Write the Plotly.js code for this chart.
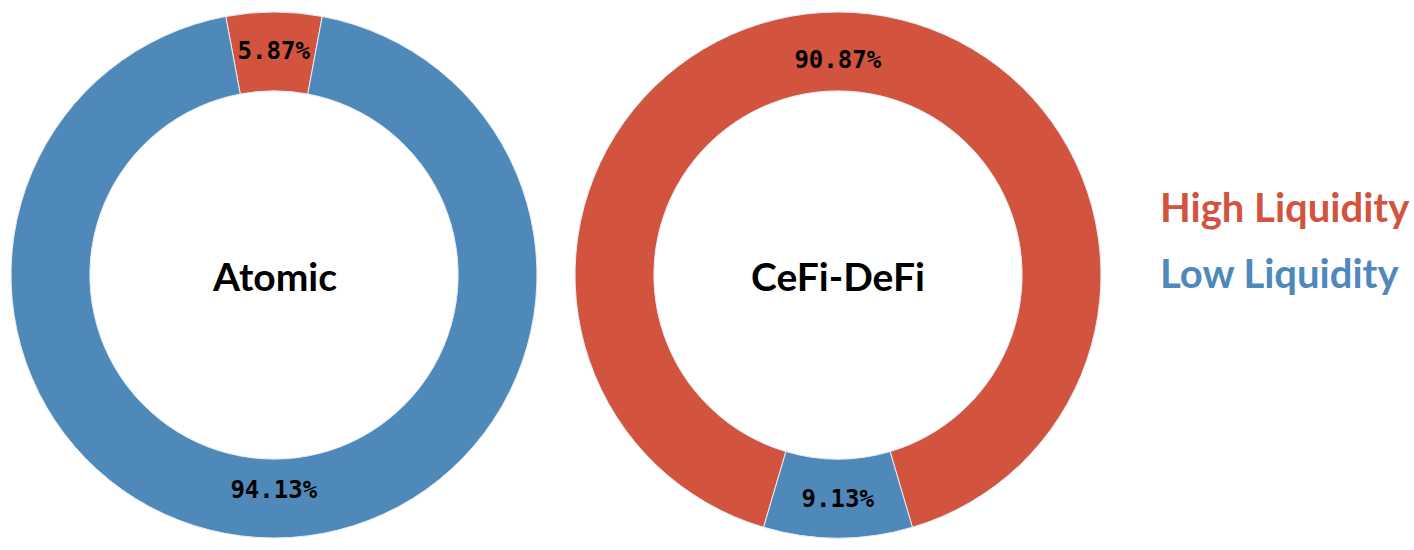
<!DOCTYPE html>
<html>
<head>
<meta charset="utf-8">
<script src="https://cdn.plot.ly/plotly-3.0.1.min.js"></script>
<style>
  html, body { margin: 0; padding: 0; background: #ffffff; }
  #chart { width: 1414px; height: 550px; }
</style>
</head>
<body>
<div id="chart"></div>
<script>
// ---- data ----
const groups = ['Atomic', 'CeFi-DeFi'];
const categories = ['High Liquidity', 'Low Liquidity'];
const atomicValues = [5.87, 94.13];
const cefiDefiValues = [90.87, 9.13];

// ---- style ----
const colors = ['#D2543F', '#4F89B9'];
const legendColors = ['#D2543F', '#4E88BC'];
const labelFont = { family: 'DejaVu Sans Mono', size: 24, color: '#000000', weight: 'bold' };
const bigFont = 'Lato, "Open Sans", sans-serif';

const seriesList = [atomicValues, cefiDefiValues];
const domains = [
  { x: [11 / 1414, 537 / 1414], y: [12 / 550, 538 / 550] },
  { x: [575 / 1414, 1101 / 1414], y: [12 / 550, 538 / 550] }
];

const traces = seriesList.map((vals, i) => {
  const total = vals.reduce((a, b) => a + b, 0);
  return {
    type: 'pie',
    labels: categories,
    values: vals,
    name: groups[i],
    hole: 0.70,
    sort: false,
    direction: 'clockwise',
    rotation: -(vals[0] / total) * 180,
    domain: domains[i],
    marker: { colors: colors, line: { color: '#e6eef5', width: 1 } },
    textinfo: 'text',
    texttemplate: '%{value:.2f}%',
    textposition: 'inside',
    insidetextorientation: 'horizontal',
    textfont: labelFont,
    hoverinfo: 'skip',
    showlegend: false
  };
});

const annotations = [];
groups.forEach((g, i) => {
  const d = domains[i];
  annotations.push({
    text: g,
    x: (d.x[0] + d.x[1]) / 2,
    y: 1 - 276 / 550,
    xref: 'paper', yref: 'paper',
    xanchor: 'center', yanchor: 'middle',
    showarrow: false,
    font: { family: bigFont, size: 39, color: '#000000', weight: 'bold' }
  });
});
const legendY = [207, 273];
categories.forEach((c, i) => {
  annotations.push({
    text: c,
    x: 1158 / 1414,
    y: 1 - legendY[i] / 550,
    xref: 'paper', yref: 'paper',
    xanchor: 'left', yanchor: 'middle',
    showarrow: false,
    font: { family: bigFont, size: 40, color: legendColors[i], weight: 'bold' }
  });
});

const layout = {
  width: 1414,
  height: 550,
  margin: { l: 0, r: 0, t: 0, b: 0 },
  paper_bgcolor: '#ffffff',
  plot_bgcolor: '#ffffff',
  showlegend: false,
  uniformtext: { minsize: 24, mode: 'show' },
  annotations: annotations
};

Plotly.newPlot('chart', traces, layout, { displayModeBar: false, staticPlot: true });
</script>
</body>
</html>
